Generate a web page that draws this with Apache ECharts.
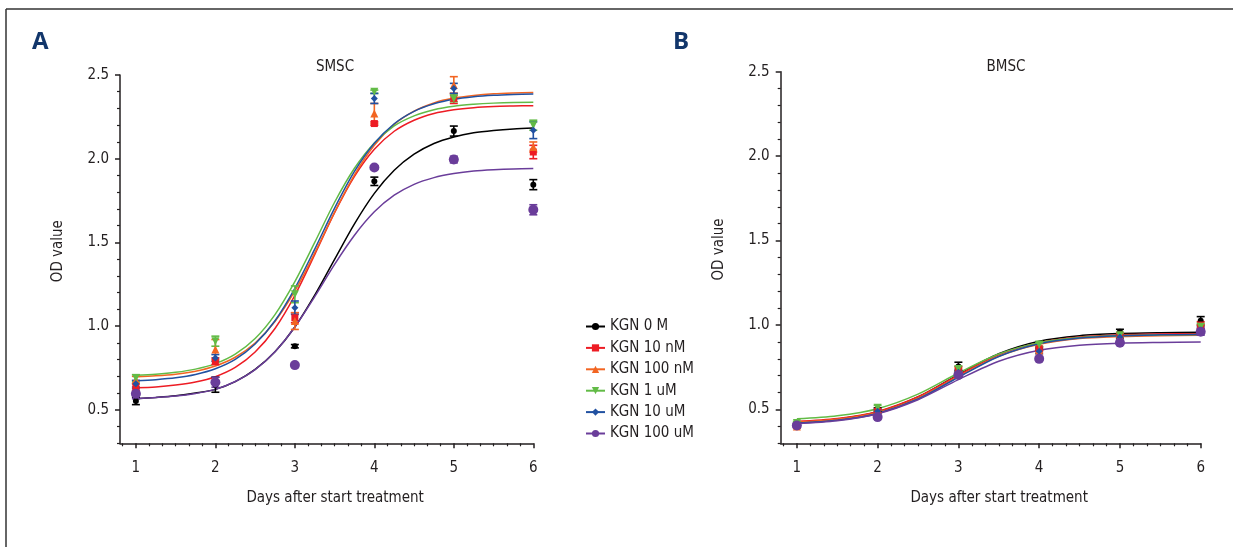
<!DOCTYPE html>
<html>
<head>
<meta charset="utf-8">
<script src="https://cdn.jsdelivr.net/npm/echarts@6/dist/echarts.min.js"></script>
<style>
  html, body { margin: 0; padding: 0; background: #fff; }
  #chart { width: 1233px; height: 547px; }
</style>
</head>
<body>
<div id="chart"></div>
<script>
const names = ['KGN 0 M', 'KGN 10 nM', 'KGN 100 nM', 'KGN 1 uM', 'KGN 10 uM', 'KGN 100 uM']
const colors = ['#000000', '#ed1c24', '#f26522', '#62bb46', '#2151a1', '#6a3d9a']
const symbols = ['circle', 'rect', 'triangle', 'triangle', 'diamond', 'circle']
const symbolRotate = [0, 0, 0, 180, 0, 0]
const symbolSizes = [6, 7, 8, 8, 7, 10]

const days = [1, 2, 3, 4, 5, 6]
const xTicks = [1, 2, 3, 4, 5, 6]
const yTicks = [0.5, 1.0, 1.5, 2.0, 2.5]

// SMSC: fitted curves every quarter day
const smscFitX = [1, 1.25, 1.5, 1.75, 2, 2.25, 2.5, 2.75, 3, 3.25, 3.5, 3.75, 4, 4.25, 4.5, 4.75, 5, 5.25, 5.5, 5.75, 6]
const smscFit = [
  [0.566, 0.574, 0.584, 0.600, 0.622, 0.668, 0.741, 0.847, 0.995, 1.185, 1.399, 1.611, 1.793, 1.931, 2.027, 2.091, 2.130, 2.155, 2.169, 2.178, 2.183],
  [0.632, 0.637, 0.648, 0.666, 0.698, 0.753, 0.845, 0.986, 1.184, 1.427, 1.677, 1.894, 2.056, 2.164, 2.230, 2.270, 2.292, 2.305, 2.312, 2.315, 2.317],
  [0.697, 0.703, 0.713, 0.731, 0.762, 0.814, 0.899, 1.028, 1.210, 1.437, 1.681, 1.904, 2.080, 2.205, 2.284, 2.333, 2.362, 2.378, 2.388, 2.393, 2.396],
  [0.707, 0.713, 0.724, 0.743, 0.776, 0.833, 0.926, 1.069, 1.266, 1.500, 1.740, 1.943, 2.094, 2.196, 2.256, 2.293, 2.314, 2.325, 2.332, 2.336, 2.337],
  [0.673, 0.680, 0.691, 0.711, 0.745, 0.801, 0.893, 1.032, 1.226, 1.460, 1.705, 1.924, 2.092, 2.209, 2.283, 2.328, 2.355, 2.370, 2.379, 2.384, 2.387],
  [0.567, 0.573, 0.582, 0.598, 0.622, 0.669, 0.740, 0.847, 0.995, 1.176, 1.369, 1.543, 1.683, 1.782, 1.847, 1.887, 1.911, 1.926, 1.934, 1.939, 1.941]
]
const smscMean = [
  [0.553, 0.650, 0.880, 1.865, 2.165, 1.845],
  [0.635, 0.790, 1.050, 2.210, 2.360, 2.040],
  [0.680, 0.860, 1.030, 2.270, 2.440, 2.070],
  [0.690, 0.910, 1.190, 2.400, 2.360, 2.200],
  [0.656, 0.810, 1.110, 2.360, 2.420, 2.170],
  [0.596, 0.665, 0.767, 1.947, 1.995, 1.695]
]
const smscErr = [
  [0.022, 0.045, 0.010, 0.025, 0.030, 0.030],
  [0.020, 0.020, 0.030, 0.010, 0.030, 0.040],
  [0.020, 0.060, 0.050, 0.060, 0.050, 0.030],
  [0.020, 0.030, 0.050, 0.010, 0.020, 0.030],
  [0.020, 0.020, 0.040, 0.030, 0.030, 0.050],
  [0.030, 0.030, 0.010, 0.010, 0.020, 0.030]
]

// BMSC
const bmscFitX = [1, 1.5, 2, 2.5, 3, 3.5, 4, 4.5, 5, 5.5, 6]
const bmscFit = [
  [0.425, 0.443, 0.485, 0.574, 0.707, 0.830, 0.904, 0.937, 0.950, 0.955, 0.957],
  [0.430, 0.447, 0.489, 0.576, 0.704, 0.824, 0.896, 0.929, 0.942, 0.947, 0.949],
  [0.425, 0.442, 0.483, 0.569, 0.696, 0.815, 0.886, 0.920, 0.932, 0.937, 0.939],
  [0.445, 0.463, 0.505, 0.591, 0.716, 0.829, 0.896, 0.926, 0.938, 0.942, 0.944],
  [0.420, 0.436, 0.477, 0.562, 0.691, 0.814, 0.889, 0.923, 0.937, 0.942, 0.944],
  [0.416, 0.433, 0.475, 0.558, 0.677, 0.786, 0.851, 0.881, 0.893, 0.897, 0.899]
]
const bmscMean = [
  [0.410, 0.500, 0.755, 0.860, 0.960, 1.025],
  [0.405, 0.490, 0.740, 0.860, 0.940, 1.000],
  [0.400, 0.490, 0.730, 0.850, 0.930, 0.980],
  [0.420, 0.510, 0.740, 0.885, 0.940, 0.990],
  [0.410, 0.490, 0.720, 0.845, 0.930, 0.970],
  [0.405, 0.455, 0.705, 0.800, 0.895, 0.960]
]
const bmscErr = [
  [0.010, 0.010, 0.025, 0.010, 0.015, 0.025],
  [0.010, 0.010, 0.015, 0.010, 0.010, 0.020],
  [0.010, 0.010, 0.015, 0.010, 0.010, 0.020],
  [0.010, 0.015, 0.015, 0.010, 0.010, 0.020],
  [0.010, 0.010, 0.015, 0.015, 0.010, 0.020],
  [0.010, 0.010, 0.010, 0.010, 0.010, 0.020]
]

const font = "'Liberation Sans Narrow', 'DejaVu Sans Condensed', sans-serif"
const axisColor = '#231f20'
const fs = 15

// minor tick positions (every 1/6 day, every 0.1 OD)
const xMinor = []
for (let i = 5; i <= 36; i++) if (i % 6 !== 0) xMinor.push(i / 6)
const yMinor = []
for (let i = 3; i <= 25; i++) if (i % 5 !== 0) yMinor.push(i / 10)

const makeAxes = (grid) => {
  const x = [
    {
      gridIndex: grid, type: 'value', min: 0.8, max: 6,
      axisLine: { lineStyle: { color: axisColor, width: 1.5 } },
      axisTick: { customValues: xTicks, length: 5, lineStyle: { color: axisColor, width: 1.5 } },
      axisLabel: { customValues: xTicks, margin: 17, color: '#231f20', fontSize: fs, fontFamily: font },
      splitLine: { show: false },
      name: 'Days after start treatment', nameLocation: 'middle', nameGap: 47,
      nameTextStyle: { fontSize: fs, fontFamily: font, color: '#231f20', padding: [0, 0, 0, 17] }
    },
    {
      gridIndex: grid, type: 'value', min: 0.8, max: 6, position: 'bottom',
      axisLine: { show: false },
      axisTick: { customValues: xMinor, length: 3, lineStyle: { color: axisColor, width: 1.2 } },
      axisLabel: { show: false },
      splitLine: { show: false }
    }
  ]
  const y = [
    {
      gridIndex: grid, type: 'value', min: 0.3, max: 2.5,
      axisLine: { show: true, lineStyle: { color: axisColor, width: 1.5 } },
      axisTick: { show: true, customValues: yTicks, length: 5, lineStyle: { color: axisColor, width: 1.5 } },
      axisLabel: { customValues: yTicks, margin: 11, formatter: v => v.toFixed(1), color: '#231f20', fontSize: fs, fontFamily: font },
      splitLine: { show: false },
      name: 'OD value', nameLocation: 'middle', nameGap: 54, nameRotate: 90,
      nameTextStyle: { fontSize: fs, fontFamily: font, color: '#231f20', padding: [0, 0, 0, 16] }
    },
    {
      gridIndex: grid, type: 'value', min: 0.3, max: 2.5, position: 'left',
      axisLine: { show: false },
      axisTick: { show: true, customValues: yMinor, length: 3, lineStyle: { color: axisColor, width: 1.2 } },
      axisLabel: { show: false },
      splitLine: { show: false }
    }
  ]
  return { x, y }
}

const errorBar = (color) => (params, api) => {
  const x = api.value(0)
  const lo = api.coord([x, api.value(1)])
  const hi = api.coord([x, api.value(2)])
  const w = 4
  const style = { stroke: color, lineWidth: 1.6 }
  return {
    type: 'group',
    children: [
      { type: 'line', shape: { x1: lo[0], y1: lo[1], x2: hi[0], y2: hi[1] }, style },
      { type: 'line', shape: { x1: lo[0] - w, y1: lo[1], x2: lo[0] + w, y2: lo[1] }, style },
      { type: 'line', shape: { x1: hi[0] - w, y1: hi[1], x2: hi[0] + w, y2: hi[1] }, style }
    ]
  }
}

const makeSeries = (axisX, axisY, fitX, fit, mean, err) => {
  const curves = names.map((name, i) => ({
    name, type: 'line', xAxisIndex: axisX, yAxisIndex: axisY,
    smooth: 0.3,
    symbol: symbols[i], symbolRotate: symbolRotate[i], showSymbol: false,
    lineStyle: { color: colors[i], width: 1.5 },
    itemStyle: { color: colors[i] },
    silent: true, z: 2,
    data: fitX.map((d, k) => [d, fit[i][k]])
  }))
  const bars = names.map((name, i) => ({
    name, type: 'custom', xAxisIndex: axisX, yAxisIndex: axisY,
    renderItem: errorBar(colors[i]), z: 3,
    encode: { x: 0, y: [1, 2] },
    data: days.map((d, k) => [d, mean[i][k] - err[i][k], mean[i][k] + err[i][k]])
  }))
  const points = names.map((name, i) => ({
    name, type: 'scatter', xAxisIndex: axisX, yAxisIndex: axisY,
    symbol: symbols[i], symbolRotate: symbolRotate[i], symbolSize: symbolSizes[i],
    itemStyle: { color: colors[i], opacity: 1 }, z: 4,
    data: days.map((d, k) => [d, mean[i][k]])
  }))
  return [...curves, ...bars, ...points]
}

const axA = makeAxes(0)
const axB = makeAxes(1)

const chart = echarts.init(document.getElementById('chart'))
chart.setOption({
  backgroundColor: '#ffffff',
  animation: false,
  grid: [
    { left: 120, right: 699.7, top: 75, bottom: 103.7, outerBoundsMode: 'none' },
    { left: 780.7, right: 32.3, top: 71.7, bottom: 103.7, outerBoundsMode: 'none' }
  ],
  xAxis: [...axA.x, ...axB.x],
  yAxis: [...axA.y, ...axB.y],
  legend: {
    data: names,
    orient: 'vertical',
    left: 580, top: 314,
    itemWidth: 19, itemHeight: 9, itemGap: 6.4,
    selectedMode: false,
    textStyle: { fontSize: fs, fontFamily: font, color: '#231f20', lineHeight: 15 }
  },
  graphic: [
    { type: 'line', shape: { x1: 6, y1: 9, x2: 1233, y2: 9 }, style: { stroke: '#333', lineWidth: 1.5 } },
    { type: 'line', shape: { x1: 6, y1: 9, x2: 6, y2: 547 }, style: { stroke: '#333', lineWidth: 1.5 } },
    { type: 'text', left: 32, top: 30, style: { text: 'A', fontSize: 24, fontWeight: 'bold', fontFamily: "'Open Sans', sans-serif", fill: '#12366b' } },
    { type: 'text', left: 673, top: 30, style: { text: 'B', fontSize: 24, fontWeight: 'bold', fontFamily: "'Open Sans', sans-serif", fill: '#12366b' } },
    { type: 'text', x: 335, y: 67, style: { text: 'SMSC', fontSize: fs, fontFamily: font, fill: '#231f20', textAlign: 'center', textVerticalAlign: 'middle' } },
    { type: 'text', x: 1006, y: 67, style: { text: 'BMSC', fontSize: fs, fontFamily: font, fill: '#231f20', textAlign: 'center', textVerticalAlign: 'middle' } }
  ],
  series: [
    ...makeSeries(0, 0, smscFitX, smscFit, smscMean, smscErr),
    ...makeSeries(2, 2, bmscFitX, bmscFit, bmscMean, bmscErr)
  ]
})
</script>
</body>
</html>
